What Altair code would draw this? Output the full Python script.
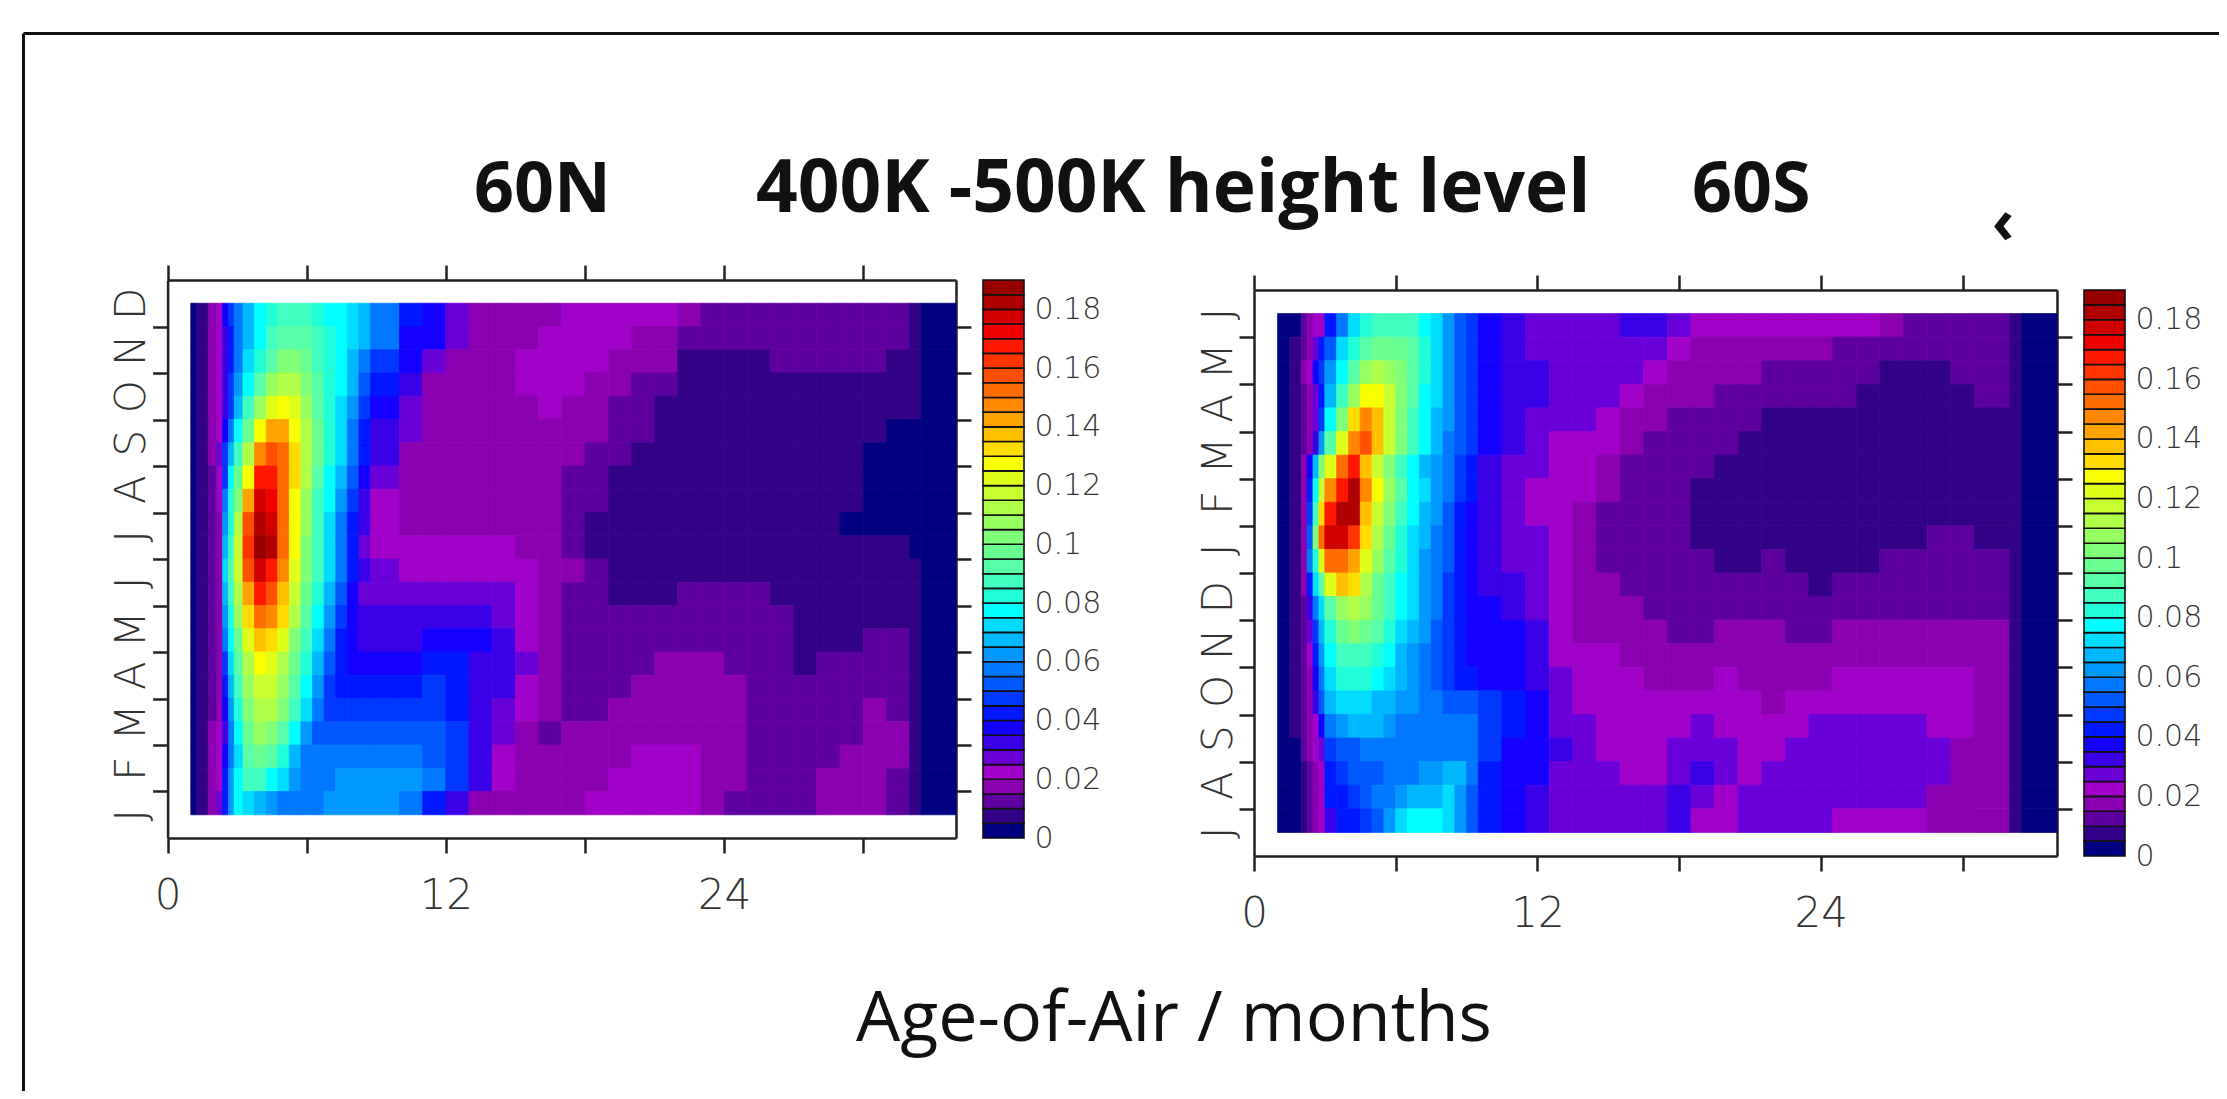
import altair as alt
import pandas as pd

# Contour-level colours, one per 0.005 step, from 0 to 0.19
LEVEL_COLORS = [
    "#000080", "#330088", "#5e00a0", "#8a00b0", "#a000c8", "#6a00d8", "#3a00e8", "#1400ff",
    "#0018ff", "#0038ff", "#0058ff", "#0078ff", "#0098ff", "#00b8ff", "#00dcff", "#00ffff",
    "#20ffd8", "#40ffc0", "#58ffa8", "#68ff90", "#80ff78", "#98ff60", "#b0ff48", "#c8ff30",
    "#e0ff18", "#f8ff00", "#ffdc00", "#ffc000", "#ffa400", "#ff8800", "#ff6c00", "#ff5000",
    "#ff3400", "#ff1800", "#f00000", "#d00000", "#b00000", "#980000",
]
LEVEL_STEP = 0.005
COLORBAR_TICKS = [0, 0.02, 0.04, 0.06, 0.08, 0.1, 0.12, 0.14, 0.16, 0.18]

# Age-of-air cell starts (months) for each panel
AGE_STARTS_60N = [1, 1.25, 1.75, 2.125, 2.375, 2.625, 2.875, 3.25, 3.75, 4.25, 4.75, 5.25, 5.75,
                  6.25, 6.75, 7.25, 7.75, 8.25, 8.75,
                  10, 11, 12, 13, 14, 15, 16, 17, 18, 19, 20, 21, 22, 23, 24, 25, 26, 27, 28, 29,
                  30, 31, 32, 32.5]
AGE_STARTS_60S = [1, 1.5, 2, 2.25, 2.5, 2.75, 3, 3.5, 4, 4.5, 5, 5.5, 6, 6.5, 7, 7.5, 8, 8.5, 9,
                  9.5, 10.5, 11.5, 12.5, 13.5, 14.5, 15.5, 16.5, 17.5, 18.5, 19.5, 20.5, 21.5,
                  22.5, 23.5, 24.5, 25.5, 26.5, 27.5, 28.5, 29.5, 30.5, 32, 32.5]
AGE_END = 34
AGE_TICKS = [0, 6, 12, 18, 24, 30]
MONTH_TICKS = [1, 2, 3, 4, 5, 6, 7, 8, 9, 10, 11]

MONTHS_60N = ["J", "F", "M", "A", "M", "J", "J", "A", "S", "O", "N", "D"]
MONTHS_60S = ["J", "A", "S", "O", "N", "D", "J", "F", "M", "A", "M", "J"]

# Contour level per cell; rows run from the top of the panel down in half-month steps
LEVELS_60N = [
    [0,1,3,4,7,9,11,13,15,16,17,17,17,16,15,15,14,13,11, 8,7,5,3,3,3,3,4,4,4,4,4,3,2,2,2,2,2,2,2,2,2,1,0],
    [0,1,3,4,6,8,11,13,15,17,18,18,18,17,16,15,14,13,11, 7,7,5,3,3,3,4,4,4,4,3,3,2,2,2,2,2,2,2,2,2,2,1,0],
    [0,1,3,4,6,8,11,14,16,18,20,20,19,17,16,15,13,11,9, 7,5,3,3,3,4,4,4,4,3,3,3,1,1,1,1,2,2,2,2,2,1,1,0],
    [0,1,3,4,6,9,12,15,18,21,22,22,20,18,16,15,13,10,8, 6,3,3,3,3,4,4,4,3,3,2,2,1,1,1,1,1,1,1,1,1,1,1,0],
    [0,1,3,4,6,9,13,17,21,24,25,24,21,18,16,14,12,9,7, 5,3,3,3,3,3,4,3,3,2,2,1,1,1,1,1,1,1,1,1,1,1,1,0],
    [0,1,3,4,7,11,15,19,25,28,28,25,22,19,16,14,11,8,6, 5,3,3,3,3,3,3,3,3,2,2,1,1,1,1,1,1,1,1,1,1,0,0,0],
    [0,1,3,5,9,13,17,22,29,31,30,26,22,19,16,14,11,8,6, 3,3,3,3,3,3,3,3,2,2,1,1,1,1,1,1,1,1,1,1,0,0,0,0],
    [0,1,2,4,9,15,19,25,33,33,30,26,22,18,15,13,10,7,5, 3,3,3,3,3,3,3,2,2,1,1,1,1,1,1,1,1,1,1,1,0,0,0,0],
    [0,1,2,4,11,16,20,28,35,34,30,25,21,17,15,12,9,6,4, 3,3,3,3,3,3,3,2,2,1,1,1,1,1,1,1,1,1,1,1,0,0,0,0],
    [0,1,2,3,12,16,22,31,36,35,30,25,21,17,14,11,8,6,4, 3,3,3,3,3,3,3,2,1,1,1,1,1,1,1,1,1,1,1,0,0,0,0,0],
    [0,1,2,3,13,17,23,32,37,36,30,25,20,17,14,11,8,5,4, 4,4,4,4,4,3,3,2,1,1,1,1,1,1,1,1,1,1,1,1,1,1,0,0],
    [0,1,2,3,14,18,23,31,35,33,29,24,20,17,14,11,8,6,5, 4,4,4,4,4,4,3,3,2,1,1,1,1,1,1,1,1,1,1,1,1,1,1,0],
    [0,1,2,3,13,17,22,28,33,31,27,23,19,16,13,10,7,5,5, 5,5,5,5,5,4,3,2,2,1,1,1,2,2,2,2,1,1,1,1,1,1,1,0],
    [0,1,2,3,12,16,21,26,30,29,26,22,18,15,12,9,7,6,6, 6,6,6,6,5,4,3,2,2,2,2,2,2,2,2,2,2,1,1,1,1,1,1,0],
    [0,1,2,3,11,15,19,24,27,26,24,20,17,14,11,8,7,6,6, 6,7,7,7,6,4,3,2,2,2,2,2,2,2,2,2,2,1,1,1,2,2,1,0],
    [0,1,2,3,9,14,18,22,25,24,22,19,16,13,10,8,7,7,7, 7,8,8,6,6,5,3,2,2,2,2,3,3,3,2,2,2,1,2,2,2,2,1,0],
    [0,1,2,3,8,13,17,21,23,23,21,18,15,12,9,8,8,8,8, 8,9,8,6,6,4,3,2,2,2,3,3,3,3,3,2,2,2,2,2,2,2,1,0],
    [0,1,2,3,7,12,16,20,22,22,20,17,14,11,9,9,9,9,9, 9,9,8,6,5,4,3,2,2,3,3,3,3,3,3,2,2,2,2,2,3,2,1,0],
    [0,1,3,4,6,11,15,19,21,20,18,15,12,10,10,10,10,10,10, 10,10,9,6,5,3,2,3,3,3,3,3,3,3,3,2,2,2,2,2,3,3,1,0],
    [0,1,3,4,7,11,14,18,19,18,16,13,11,11,11,11,11,11,11, 11,10,9,6,4,3,3,3,3,3,4,4,4,3,3,2,2,2,2,3,3,3,1,0],
    [0,1,3,4,8,12,15,17,17,15,14,12,11,11,11,12,12,12,12, 12,11,9,6,4,3,3,3,3,4,4,4,4,3,3,2,2,2,3,3,3,2,1,0],
    [0,1,3,5,8,12,15,14,13,12,11,11,11,11,12,12,12,12,12, 11,8,6,3,3,3,3,3,4,4,4,4,4,3,2,2,2,2,3,3,3,2,1,0],
]
LEVELS_60S = [
    [0,0,2,3,4,4,8,11,14,16,17,17,17,17,15,14,12,10,9, 7,6,5,5,5,5,6,6,5,4,4,4,4,4,4,4,4,3,2,2,2,2,1,0],
    [0,1,2,3,5,8,10,14,16,18,19,19,19,18,16,14,12,10,9, 7,6,5,5,5,5,5,5,4,3,3,3,3,3,3,2,2,2,2,2,2,2,1,0],
    [0,1,3,4,7,9,12,15,18,21,22,21,20,18,16,14,12,10,9, 7,6,6,5,5,5,5,4,3,3,3,3,2,2,2,2,2,1,1,1,2,2,1,0],
    [0,1,2,3,5,8,13,17,21,25,25,23,20,18,15,14,12,10,9, 7,6,6,5,5,5,4,3,3,3,2,2,2,2,2,2,1,1,1,1,1,2,1,0],
    [0,1,2,3,5,9,15,20,26,29,27,23,20,17,15,13,12,10,9, 7,6,5,5,5,4,3,3,2,2,2,2,1,1,1,1,1,1,1,1,1,1,1,0],
    [0,1,2,3,6,12,18,24,29,31,27,23,20,17,15,13,11,10,9, 7,6,5,4,4,4,3,2,2,2,2,1,1,1,1,1,1,1,1,1,1,1,1,0],
    [0,1,3,7,13,20,24,30,33,27,23,20,17,15,13,12,11,9,8, 6,5,5,4,4,3,2,2,2,2,1,1,1,1,1,1,1,1,1,1,1,1,1,0],
    [0,1,3,8,15,23,29,33,36,29,25,21,18,15,14,12,11,9,8, 6,5,4,4,4,3,2,2,2,1,1,1,1,1,1,1,1,1,1,1,1,1,1,0],
    [0,1,3,9,17,26,33,36,36,27,23,20,17,15,13,12,10,8,7, 6,5,4,4,3,2,2,2,2,1,1,1,1,1,1,1,1,1,1,1,1,1,1,0],
    [0,1,3,10,20,30,35,35,32,26,22,19,16,14,13,11,10,8,7, 6,5,5,4,3,2,2,2,2,1,1,1,1,1,1,1,1,1,1,2,2,1,1,0],
    [0,1,3,11,16,24,30,30,28,24,21,18,16,14,12,11,10,8,7, 6,5,5,4,3,2,2,2,2,2,1,1,2,1,1,1,1,2,2,2,2,2,1,0],
    [0,1,3,8,14,18,24,27,26,22,19,17,15,14,12,11,9,8,7, 6,6,5,4,3,3,2,2,2,2,2,2,2,2,1,2,2,2,2,2,2,2,1,0],
    [0,1,2,6,11,14,18,21,22,21,19,17,15,14,12,11,9,8,7, 7,6,5,4,3,3,3,2,2,2,2,2,2,2,2,2,2,2,2,2,2,2,1,0],
    [0,1,2,5,9,13,16,19,20,19,18,16,14,13,12,10,9,8,7, 7,7,6,4,3,3,3,3,2,2,3,3,3,2,2,3,3,3,3,3,3,3,1,0],
    [0,1,2,4,8,12,15,17,17,17,16,15,13,12,11,10,9,8,7, 7,7,6,4,4,4,3,3,3,3,3,3,3,3,3,3,3,3,3,3,3,3,1,0],
    [0,1,2,3,7,11,14,16,16,16,15,14,13,12,11,10,9,8,8, 7,7,6,5,4,4,4,3,3,3,4,3,3,3,3,4,4,4,4,4,4,3,1,0],
    [0,1,2,3,6,10,13,14,14,14,13,13,12,12,11,11,10,10,10, 9,8,7,5,4,4,4,4,4,4,4,4,3,4,4,4,4,4,4,4,4,3,1,0],
    [0,1,2,3,4,7,11,12,13,13,13,12,11,11,11,11,11,11,11, 9,8,7,5,5,4,4,4,4,5,4,4,4,4,5,5,5,5,5,4,4,3,1,0],
    [0,0,2,3,4,5,9,10,10,11,11,11,11,11,11,11,11,11,11, 9,7,7,6,5,4,4,4,5,5,5,4,4,5,5,5,5,5,5,5,3,3,1,0],
    [0,0,1,2,3,4,8,9,10,10,10,11,11,11,12,12,13,13,11, 8,7,7,5,5,5,4,4,5,6,5,4,5,5,5,5,5,5,5,5,3,3,1,0],
    [0,0,1,2,3,4,8,8,9,10,11,11,12,13,13,13,14,12,10, 8,7,6,5,5,5,5,5,6,5,4,5,5,5,5,5,5,5,5,3,3,3,1,0],
    [0,0,1,2,3,4,6,8,8,9,10,12,14,15,15,15,14,12,10, 8,7,6,5,5,5,5,5,6,4,4,5,5,5,5,4,4,4,4,3,3,3,1,0],
]

TITLE_LEFT = "60N"
TITLE_MIDDLE = "400K -500K height level"
TITLE_RIGHT = "60S"
X_TITLE = "Age-of-Air / months"
STRAY_MARK = "‹"

W, H = 2211, 1083
AXIS_COLOR = "#222222"
TEXT_COLOR = "#333333"
AXIS_FONT = "DejaVu Sans"
AXIS_WEIGHT = 200
TITLE_FONT = "Open Sans"

band_color = alt.Scale(domain=list(range(len(LEVEL_COLORS))), range=LEVEL_COLORS)


def cells(rows, starts):
    ends = starts[1:] + [AGE_END]
    records = []
    for r, row in enumerate(rows):
        assert len(row) == len(starts), (r, len(row))
        for start, end, level in zip(starts, ends, row):
            records.append({"x": start, "x2": end,
                            "y": 11.5 - 0.5 * (r + 1), "y2": 11.5 - 0.5 * r, "band": level})
    return pd.DataFrame(records)


def panel(rows, starts, months, left, right, top, bottom, cb_left, cb_right):
    xs = alt.Scale(domain=[0, AGE_END], range=[left, right], nice=False, zero=False)
    ys = alt.Scale(domain=[0, 12], range=[bottom, top], nice=False, zero=False)
    common = dict(domainColor=AXIS_COLOR, tickColor=AXIS_COLOR, domainWidth=2.5, tickWidth=2.5,
                  tickSize=15, grid=False, title=None, labelFont=AXIS_FONT, labelColor=TEXT_COLOR,
                  labelFontWeight=AXIS_WEIGHT)
    ghost = pd.DataFrame({"x": [0], "y": [0]})

    heat = alt.Chart(cells(rows, starts)).mark_rect(strokeWidth=0.8).encode(
        x=alt.X("x:Q", scale=xs, axis=alt.Axis(
            orient="bottom", offset=bottom - H, values=AGE_TICKS,
            labelExpr="datum.value % 12 === 0 ? datum.label : ''",
            labelFontSize=42, labelPadding=22, labelOverlap=False, labelFlush=False, **common)),
        x2="x2:Q",
        y=alt.Y("y:Q", scale=ys, axis=alt.Axis(
            orient="left", offset=-left, values=MONTH_TICKS, labels=False, **common)),
        y2="y2:Q",
        color=alt.Color("band:O", scale=band_color, legend=None),
        stroke=alt.Stroke("band:O", scale=band_color, legend=None),
    )
    top_right = alt.Chart(ghost).mark_point(opacity=0).encode(
        x=alt.X("x:Q", scale=xs, axis=alt.Axis(
            orient="top", offset=-top, values=AGE_TICKS, labels=False, **common)),
        y=alt.Y("y:Q", scale=ys, axis=alt.Axis(
            orient="right", offset=right - W, values=MONTH_TICKS, labels=False, **common)),
    )
    month_names = "[" + ",".join(f"'{m}'" for m in months) + "]"
    month_labels = alt.Chart(ghost).mark_point(opacity=0).encode(
        x=alt.X("x:Q", scale=xs, axis=None),
        y=alt.Y("y:Q", scale=ys, axis=alt.Axis(
            orient="left", offset=-left, values=[m + 0.5 for m in range(12)],
            labelExpr=month_names + "[floor(datum.value)]",
            domain=False, ticks=False, labelAngle=270, labelFontSize=42, labelPadding=14,
            labelOverlap=False, labelFlush=False, labelAlign="center", labelBaseline="bottom",
            grid=False, title=None, labelFont=AXIS_FONT, labelColor=TEXT_COLOR,
            labelFontWeight=AXIS_WEIGHT)),
    )
    bar = pd.DataFrame({"band": list(range(len(LEVEL_COLORS)))})
    bar["lo"] = bar["band"] * LEVEL_STEP
    bar["hi"] = (bar["band"] + 1) * LEVEL_STEP
    bar_scale = alt.Scale(domain=[0, len(LEVEL_COLORS) * LEVEL_STEP], range=[bottom, top],
                          nice=False, zero=False)
    colorbar = alt.Chart(bar).mark_rect(stroke="#111111", strokeWidth=1.6).encode(
        x=alt.value(cb_left), x2=alt.value(cb_right),
        y=alt.Y("lo:Q", scale=bar_scale, axis=alt.Axis(
            orient="right", offset=cb_right - W, values=COLORBAR_TICKS, format="~g",
            domain=False, ticks=False, labelFontSize=30, labelPadding=10, labelOverlap=False,
            labelFlush=False, grid=False, title=None, labelFont=AXIS_FONT, labelColor=TEXT_COLOR,
            labelFontWeight=AXIS_WEIGHT)),
        y2="hi:Q",
        color=alt.Color("band:O", scale=band_color, legend=None),
    )
    return [heat, top_right, month_labels, colorbar]


def text_layer(text, x, y, size, weight="normal", align="left", color="#111111"):
    return alt.Chart(pd.DataFrame({"t": [text]})).mark_text(
        font=TITLE_FONT, fontSize=size, fontWeight=weight, align=align,
        baseline="alphabetic", color=color,
    ).encode(x=alt.value(x), y=alt.value(y), text="t:N")


frame_df = pd.DataFrame({"k": [0]})
frame_left = alt.Chart(frame_df).mark_rule(color="#111111", strokeWidth=3).encode(
    x=alt.value(15.5), y=alt.value(25.5), y2=alt.value(H))
frame_top = alt.Chart(frame_df).mark_rule(color="#111111", strokeWidth=3).encode(
    y=alt.value(25.5), x=alt.value(15.5), x2=alt.value(W))

layers = (
    [frame_left, frame_top]
    + panel(LEVELS_60N, AGE_STARTS_60N, MONTHS_60N, 159.6, 948, 272, 830, 975, 1016)
    + panel(LEVELS_60S, AGE_STARTS_60S, MONTHS_60S, 1246, 2049, 282, 848, 2076, 2117)
    + [
        text_layer(TITLE_LEFT, 466, 204, 70, "bold"),
        text_layer(TITLE_MIDDLE, 748, 204, 73, "bold"),
        text_layer(TITLE_RIGHT, 1684, 204, 70, "bold"),
        text_layer(X_TITLE, 848, 1033, 70),
        text_layer(STRAY_MARK, 1995, 235, 60, "bold", "center"),
    ]
)

chart = alt.layer(*layers).resolve_scale(x="independent", y="independent").properties(
    width=W, height=H, padding=0, autosize=alt.AutoSizeParams(type="none"),
    background="white",
).configure_view(stroke=None)

chart.save("out.html", embed_options={"renderer": "svg", "actions": False})
